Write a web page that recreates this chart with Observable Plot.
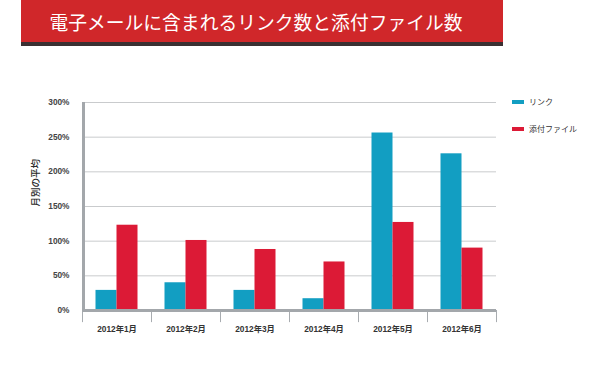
<!DOCTYPE html>
<html>
<head>
<meta charset="utf-8">
<script src="https://cdn.jsdelivr.net/npm/d3@7"></script>
<script src="https://cdn.jsdelivr.net/npm/@observablehq/plot@0.6"></script>
<style>
  html, body { margin: 0; padding: 0; background: #fff; }
  body { width: 600px; height: 365px; position: relative; overflow: hidden; font-family: "Noto Sans CJK JP", "Liberation Sans", sans-serif; }
  #banner { position: absolute; left: 21px; top: 0; width: 470px; padding-right: 12px; height: 42px; background: #d0272a; border-bottom: 4px solid #3a3032; color: #fff; font-size: 18.8px; text-align: center; line-height: 43px; font-family: "Noto Sans CJK JP", sans-serif; }
  #chart { position: absolute; left: 0; top: 46px; }
  #legend { position: absolute; left: 512px; top: 96px; font-size: 8px; color: #333; font-family: "Noto Sans CJK JP", sans-serif; }
  .li { position: absolute; left: 0; white-space: nowrap; height: 12px; line-height: 12px; }
  .sw { display: inline-block; width: 12px; height: 4px; vertical-align: middle; margin-right: 5px; position: relative; top: -1px; }
</style>
</head>
<body>
<div id="banner">電子メールに含まれるリンク数と添付ファイル数</div>
<div id="chart"></div>
<div id="legend"></div>
<script>
const title = "電子メールに含まれるリンク数と添付ファイル数";
const months = ["2012年1月", "2012年2月", "2012年3月", "2012年4月", "2012年5月", "2012年6月"];
const seriesNames = ["リンク", "添付ファイル"];
const linkValues = [29, 40, 29, 17, 256, 226];
const attachValues = [123, 101, 88, 70, 127, 90];
const yTicks = [0, 50, 100, 150, 200, 250, 300];
const yLabel = "月別の平均";
const colors = ["#129ec2", "#dc1a36"];

const rows = [];
months.forEach((m, i) => {
  rows.push({month: m, series: seriesNames[0], value: linkValues[i]});
  rows.push({month: m, series: seriesNames[1], value: attachValues[i]});
});

const bandW = 69, barW = 21, side = (bandW - 2 * barW) / 2;

const chart = Plot.plot({
  width: 600,
  height: 319,
  marginTop: 56,
  marginBottom: 55,
  marginLeft: 82,
  marginRight: 104,
  style: {fontFamily: "'Liberation Sans', 'Noto Sans CJK JP', sans-serif", fontSize: "8.3px", color: "#3a3a3a", background: "transparent"},
  x: {domain: months, padding: 0, label: null},
  y: {domain: [0, 300], label: null},
  color: {domain: seriesNames, range: colors},
  marks: [
    Plot.ruleY(yTicks.slice(1), {y: d => d, stroke: "#c9cbcd", strokeWidth: 1}),
    Plot.barY(rows.filter(d => d.series === seriesNames[0]), {x: "month", y: "value", fill: "series", insetLeft: side, insetRight: side + barW}),
    Plot.barY(rows.filter(d => d.series === seriesNames[1]), {x: "month", y: "value", fill: "series", insetLeft: side + barW, insetRight: side}),
    Plot.ruleX(months, {x: d => d, dx: -bandW / 2, y1: 0, y2: -17.5, stroke: "#a8acb0", strokeWidth: 1}),
    Plot.ruleX([months[months.length - 1]], {x: d => d, dx: bandW / 2, y1: 0, y2: -17.5, stroke: "#a8acb0", strokeWidth: 1}),
    Plot.ruleX([months[0]], {x: d => d, dx: -bandW / 2 + 1, y1: -1.5, y2: 300, stroke: "#a3a7ab", strokeWidth: 3}),
    Plot.ruleY([0], {stroke: "#a3a7ab", strokeWidth: 3}),
    Plot.axisY({ticks: yTicks, tickFormat: d => d + "%", tickSize: 0, tickPadding: 13, fontWeight: "bold", fill: "#444", label: null}),
    Plot.axisX({tickSize: 0, tickPadding: 16, fontWeight: "bold", fill: "#333", label: null}),
    Plot.text([yLabel], {frameAnchor: "left", dx: -47, rotate: -90, fontSize: 9.5, fontWeight: 500, fill: "#2a2a2a", fontFamily: "'Noto Sans CJK JP', sans-serif", text: d => d})
  ]
});
document.getElementById("chart").appendChild(chart);

const legend = document.getElementById("legend");
seriesNames.forEach((s, i) => {
  const div = document.createElement("div");
  div.className = "li";
  div.style.top = (i * 27) + "px";
  const sw = document.createElement("span");
  sw.className = "sw";
  sw.style.background = colors[i];
  div.appendChild(sw);
  div.appendChild(document.createTextNode(s));
  legend.appendChild(div);
});
</script>
</body>
</html>
